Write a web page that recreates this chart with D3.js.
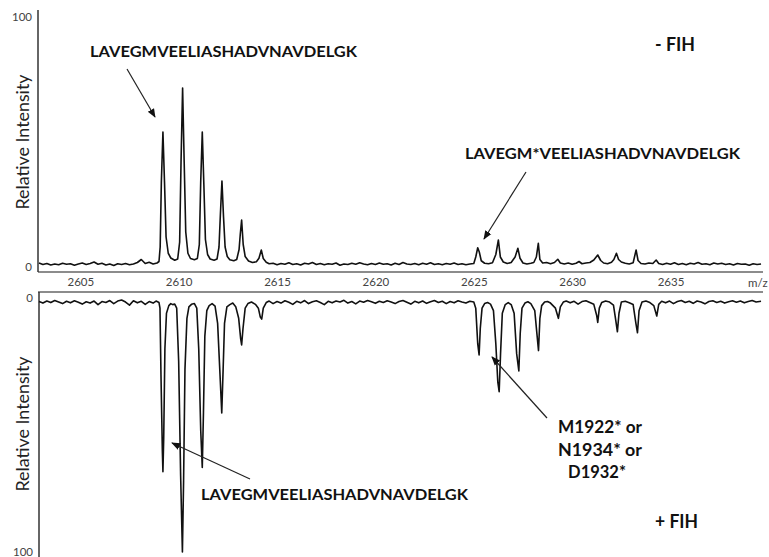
<!DOCTYPE html>
<html><head><meta charset="utf-8">
<script src="https://cdn.jsdelivr.net/npm/d3@7/dist/d3.min.js"></script>
<style>
html,body{margin:0;padding:0;background:#fff;}
svg{display:block;}
text{font-family:Lato,"Open Sans",sans-serif;}
</style></head><body>
<svg id="chart" width="769" height="557"></svg>
<script>
// ---- data ----
const mzTicks = [2605, 2610, 2615, 2620, 2625, 2630, 2635];
const yTicks = [0, 100];
const mzDomain = [2602.85, 2639.7];

// - FIH spectrum [m/z, relative intensity]
const topTrace = [
[2602.9,1.6],[2603.1,1.0],[2603.3,1.4],[2603.5,0.8],[2603.7,1.2],[2603.9,0.9],[2604.1,1.5],[2604.3,1.1],[2604.5,1.3],[2604.7,0.7],[2604.9,1.2],[2605.1,1.6],[2605.3,1.0],[2605.5,1.4],[2605.7,2.0],[2605.9,1.1],[2606.1,1.5],[2606.3,0.8],[2606.5,1.2],[2606.7,0.6],[2606.9,1.3],[2607.1,1.0],[2607.3,1.4],[2607.5,0.9],[2607.7,1.2],[2607.9,1.8],[2608.1,3.0],[2608.3,1.4],[2608.5,1.9],[2608.7,1.2],[2608.9,1.6],[2609.0,2.2],
[2609.06,8],[2609.12,34],[2609.2,54],[2609.28,34],[2609.36,12],[2609.47,5.5],[2609.6,3.6],[2609.8,2.7],[2609.95,3.2],
[2610.05,10],[2610.12,42],[2610.2,71.6],[2610.28,42],[2610.36,14],[2610.47,5.5],[2610.6,3.4],[2610.8,2.9],[2610.95,3.4],
[2611.05,9],[2611.12,34],[2611.2,54],[2611.28,33],[2611.36,11],[2611.47,5],[2611.6,3.2],[2611.8,2.7],[2611.95,3.2],
[2612.05,8],[2612.12,21],[2612.2,34.4],[2612.28,20],[2612.36,8],[2612.47,4.2],[2612.6,2.9],[2612.8,2.5],[2612.95,3.0],
[2613.07,7],[2613.13,13],[2613.2,18.8],[2613.28,9],[2613.38,4.2],[2613.55,2.4],[2613.75,1.8],[2613.95,2.1],
[2614.08,3.5],[2614.2,6.8],[2614.3,3.4],[2614.45,1.9],[2614.6,1.3],[2614.8,1.5],
[2615.0,0.9],[2615.2,1.4],[2615.4,1.1],[2615.6,1.7],[2615.8,1.0],[2616.0,1.3],[2616.2,0.8],[2616.4,1.5],[2616.6,1.2],[2616.8,1.8],[2617.0,1.0],[2617.2,1.4],[2617.4,0.9],[2617.6,1.3],[2617.8,1.1],[2618.0,1.6],[2618.2,0.7],[2618.4,1.2],[2618.6,1.0],[2618.8,1.5],[2619.0,1.1],[2619.2,1.7],[2619.4,1.2],[2619.6,0.9],[2619.8,1.4],[2620.0,1.0],[2620.2,1.6],[2620.4,1.1],[2620.6,1.3],[2620.8,0.8],[2621.0,1.5],[2621.2,1.0],[2621.4,1.8],[2621.6,1.2],[2621.8,1.0],[2622.0,1.4],[2622.2,0.9],[2622.4,1.5],[2622.6,1.1],[2622.8,1.7],[2623.0,1.0],[2623.2,1.3],[2623.4,0.9],[2623.6,1.4],[2623.8,1.1],[2624.0,1.6],[2624.2,1.0],[2624.4,1.3],[2624.6,0.9],[2624.8,1.2],[2625.0,1.4],
[2625.1,4],[2625.2,7.7],[2625.28,6],[2625.38,2.5],[2625.55,1.5],[2625.75,1.3],[2625.95,1.7],
[2626.12,5],[2626.25,10.8],[2626.35,4],[2626.5,2.0],[2626.7,1.4],[2626.9,1.8],
[2627.1,4],[2627.24,7.5],[2627.35,3.5],[2627.5,1.6],[2627.7,1.2],[2627.9,1.5],[2628.05,1.8],
[2628.18,4],[2628.28,9.5],[2628.36,3],[2628.5,1.6],[2628.7,1.8],[2628.9,1.3],[2629.1,1.8],
[2629.27,3.1],[2629.4,1.6],[2629.6,1.2],[2629.8,1.6],[2630.0,1.1],[2630.2,1.5],[2630.35,2.2],[2630.5,1.3],[2630.7,1.6],[2630.9,1.8],[2631.1,2.8],
[2631.3,4.8],[2631.45,2.6],[2631.6,1.6],[2631.8,1.3],[2632.0,1.9],[2632.12,3],
[2632.25,5.5],[2632.36,3],[2632.5,2.0],[2632.7,1.5],[2632.9,1.2],[2633.1,1.7],
[2633.25,6.8],[2633.35,2.6],[2633.5,1.4],[2633.7,1.2],[2633.9,1.6],[2634.1,1.4],
[2634.27,2.8],[2634.4,1.4],[2634.6,1.0],[2634.8,1.5],[2635.0,1.1],[2635.2,1.7],[2635.4,1.0],[2635.6,1.4],[2635.8,0.9],[2636.0,1.5],[2636.2,1.2],[2636.4,1.8],[2636.6,1.1],[2636.8,1.3],[2637.0,0.9],[2637.2,1.6],[2637.4,1.2],[2637.6,1.5],[2637.8,1.0],[2638.0,1.3],[2638.2,0.8],[2638.4,1.4],[2638.6,1.1],[2638.8,1.2],[2639.0,0.7],[2639.2,1.3],[2639.4,1.0],[2639.6,1.2]
];

// + FIH spectrum [m/z, relative intensity] (plotted downward)
const bottomTrace = [
[2602.9,1.4],[2603.1,2.0],[2603.3,1.2],[2603.5,1.8],[2603.7,1.0],[2603.9,1.6],[2604.1,2.2],[2604.3,1.3],[2604.5,1.9],[2604.7,1.1],[2604.9,1.7],[2605.1,2.4],[2605.3,1.5],[2605.5,2.0],[2605.7,1.2],[2605.9,2.6],[2606.1,1.4],[2606.3,1.8],[2606.5,1.0],[2606.7,2.2],[2606.9,1.2],[2607.1,0.8],[2607.3,1.6],[2607.5,2.8],[2607.7,1.1],[2607.9,1.9],[2608.1,1.3],[2608.3,2.5],[2608.5,1.4],[2608.7,2.0],[2608.85,1.2],[2609.0,1.8],
[2609.05,4],[2609.1,30],[2609.17,60],[2609.2,68.4],[2609.24,55],[2609.3,20],[2609.38,6],[2609.5,3.0],[2609.6,2.2],[2609.7,2.6],[2609.8,2.4],[2609.9,4],
[2610.0,25],[2610.1,70],[2610.19,100],[2610.25,72],[2610.32,28],[2610.42,8],[2610.52,3.5],[2610.65,2.5],[2610.8,2.2],[2610.92,4],
[2611.02,20],[2611.12,52],[2611.2,66.7],[2611.26,45],[2611.33,15],[2611.43,5],[2611.55,3],[2611.7,2.2],[2611.85,3.2],
[2611.98,10],[2612.1,30],[2612.19,45.3],[2612.26,28],[2612.33,10],[2612.45,3.5],[2612.6,2.6],[2612.75,2.0],[2612.9,3.4],
[2613.05,8],[2613.15,16],[2613.2,18.5],[2613.27,12],[2613.38,4],[2613.52,2.2],[2613.7,1.6],[2613.9,2.5],
[2614.05,4],[2614.15,7.5],[2614.22,8.3],[2614.3,4],[2614.45,1.8],[2614.6,1.2],[2614.8,2.2],
[2615.0,1.4],[2615.2,2.0],[2615.4,1.1],[2615.6,1.7],[2615.8,2.5],[2616.0,1.3],[2616.2,1.9],[2616.4,1.0],[2616.6,2.2],[2616.8,1.5],[2617.0,1.1],[2617.2,1.8],[2617.4,2.6],[2617.6,1.3],[2617.8,1.9],[2618.0,1.2],[2618.2,1.6],[2618.4,0.9],[2618.6,2.0],[2618.8,1.4],[2619.0,2.3],[2619.2,1.2],[2619.4,1.7],[2619.6,1.0],[2619.8,1.5],[2620.0,2.1],[2620.2,1.3],[2620.4,1.8],[2620.6,1.1],[2620.8,1.6],[2621.0,2.2],[2621.2,1.4],[2621.4,1.0],[2621.6,1.7],[2621.8,2.4],[2622.0,1.3],[2622.2,1.9],[2622.4,1.2],[2622.6,2.1],[2622.8,1.5],[2623.0,1.0],[2623.2,1.8],[2623.4,1.3],[2623.6,2.2],[2623.8,1.4],[2624.0,1.9],[2624.2,1.1],[2624.4,1.6],[2624.6,2.0],[2624.8,1.3],[2625.0,1.6],
[2625.1,4],[2625.2,18],[2625.27,22.4],[2625.33,12],[2625.42,4],[2625.55,2.2],[2625.7,1.8],[2625.85,2.4],
[2626.0,5],[2626.12,18],[2626.22,33],[2626.29,36.9],[2626.36,22],[2626.45,6],[2626.6,2.6],[2626.75,1.8],[2626.9,2.6],
[2627.05,6],[2627.18,22],[2627.29,28.7],[2627.36,14],[2627.45,4],[2627.6,2.0],[2627.75,1.5],[2627.9,2.2],
[2628.1,5],[2628.22,15],[2628.29,20.7],[2628.36,8],[2628.45,3],[2628.6,1.6],[2628.75,1.4],[2628.9,2.0],
[2629.15,4],[2629.3,8.0],[2629.4,3.5],[2629.55,1.6],[2629.7,1.2],[2629.9,1.9],[2630.1,1.3],[2630.3,2.4],[2630.5,1.4],[2630.7,1.1],[2630.9,1.8],[2631.1,2.5],
[2631.25,7],[2631.3,9.6],[2631.38,4],[2631.5,1.8],[2631.7,1.2],[2631.9,1.6],[2632.1,2.8],
[2632.22,9],[2632.3,13.3],[2632.38,6],[2632.5,1.6],[2632.7,1.3],[2632.9,1.9],[2633.1,2.6],
[2633.24,10],[2633.32,13.7],[2633.4,5],[2633.55,1.6],[2633.75,1.2],[2633.95,1.8],[2634.15,3],
[2634.3,7.1],[2634.4,2.5],[2634.55,1.3],[2634.75,1.9],[2634.95,1.2],[2635.15,2.2],[2635.35,1.4],[2635.55,1.0],[2635.75,1.8],[2635.95,1.3],[2636.15,2.1],[2636.35,1.2],[2636.55,1.6],[2636.75,2.3],[2636.95,1.4],[2637.15,1.1],[2637.35,1.8],[2637.55,1.3],[2637.75,2.0],[2637.95,1.5],[2638.15,1.1],[2638.35,1.7],[2638.55,1.2],[2638.75,1.9],[2638.95,1.4],[2639.15,1.0],[2639.35,1.6],[2639.6,1.3]
];

// ---- drawing ----
const svg = d3.select("#chart");
const x = d3.scaleLinear().domain(mzDomain).range([38, 763]);
const yTop = d3.scaleLinear().domain([0, 100]).range([267, 17]);
const yBot = d3.scaleLinear().domain([0, 100]).range([298, 552]);

const defs = svg.append("defs");
defs.append("marker").attr("id", "ah").attr("viewBox", "0 0 10 10")
  .attr("refX", 9).attr("refY", 5).attr("markerWidth", 9).attr("markerHeight", 9)
  .attr("markerUnits", "userSpaceOnUse").attr("orient", "auto")
  .append("path").attr("d", "M0,1 L10,5 L0,9 Z").attr("fill", "#111");

// x axis labels between panels
const xAxis = d3.axisBottom(x).tickValues(mzTicks).tickSize(0).tickPadding(6).tickFormat(d3.format("d"));
const gx = svg.append("g").attr("transform", "translate(0,272)").call(xAxis);
gx.select(".domain").remove();
svg.append("line").attr("x1", 38).attr("x2", 763).attr("y1", 272).attr("y2", 272)
  .attr("stroke", "#8c8c8c").attr("stroke-width", 2);
svg.append("line").attr("x1", 38).attr("x2", 763).attr("y1", 292).attr("y2", 292)
  .attr("stroke", "#8c8c8c").attr("stroke-width", 2);
svg.append("text").attr("x", 748).attr("y", 287).attr("font-size", 11.5).attr("fill", "#444").text("m/z");

// y axes
const gyT = svg.append("g").attr("transform", "translate(38,0)")
  .call(d3.axisLeft(yTop).tickValues(yTicks).tickSize(0).tickPadding(6));
gyT.select(".domain").remove();
const gyB = svg.append("g").attr("transform", "translate(39,0)")
  .call(d3.axisLeft(yBot).tickValues(yTicks).tickSize(0).tickPadding(6));
gyB.select(".domain").remove();
svg.selectAll(".tick text").attr("font-size", 11.5).attr("fill", "#444").attr("font-family", "Lato, sans-serif");
svg.append("line").attr("x1", 38).attr("x2", 38).attr("y1", 10).attr("y2", 272)
  .attr("stroke", "#333").attr("stroke-width", 1.5);
svg.append("line").attr("x1", 39).attr("x2", 39).attr("y1", 292).attr("y2", 557)
  .attr("stroke", "#333").attr("stroke-width", 1.5);

// axis titles
[[29, 142], [29, 424]].forEach(p => {
  svg.append("text").attr("transform", `translate(${p[0]},${p[1]}) rotate(-90)`)
    .attr("text-anchor", "middle").attr("font-size", 17).attr("fill", "#222")
    .attr("textLength", 135).attr("lengthAdjust", "spacingAndGlyphs")
    .text("Relative Intensity");
});

// spectra
const lineTop = d3.line().x(d => x(d[0])).y(d => yTop(d[1]));
const lineBot = d3.line().x(d => x(d[0])).y(d => yBot(d[1]));
svg.append("path").datum(topTrace).attr("d", lineTop)
  .attr("fill", "none").attr("stroke", "#111").attr("stroke-width", 1.6).attr("stroke-linejoin", "round");
svg.append("path").datum(bottomTrace).attr("d", lineBot)
  .attr("fill", "none").attr("stroke", "#111").attr("stroke-width", 1.6).attr("stroke-linejoin", "round");

// annotations
function label(t, xx, yy, len, size, anchor) {
  const el = svg.append("text").attr("x", xx).attr("y", yy).attr("font-size", size || 15)
    .attr("font-weight", "bold").attr("fill", "#111").attr("text-anchor", anchor || "start").text(t);
  if (len) el.attr("textLength", len).attr("lengthAdjust", "spacingAndGlyphs");
  return el;
}
function arrow(x1, y1, x2, y2) {
  svg.append("line").attr("x1", x1).attr("y1", y1).attr("x2", x2).attr("y2", y2)
    .attr("stroke", "#222").attr("stroke-width", 1.2).attr("marker-end", "url(#ah)");
}
label("LAVEGMVEELIASHADVNAVDELGK", 90, 57, 267);
arrow(127, 69, 155, 117);
label("- FIH", 655, 51, 40, 19);
label("LAVEGM*VEELIASHADVNAVDELGK", 465, 159, 275);
arrow(526, 172, 484, 239);

label("LAVEGMVEELIASHADVNAVDELGK", 201, 500, 267);
arrow(250, 479, 172, 443);
label("M1922* or", 600, 433, 84, 16.5, "middle");
label("N1934* or", 600, 456, 84, 16.5, "middle");
label("D1932*", 597, 478, null, 16.5, "middle");
arrow(547, 418, 492, 357);
label("+ FIH", 655, 528, 43, 19);
</script>
</body></html>
